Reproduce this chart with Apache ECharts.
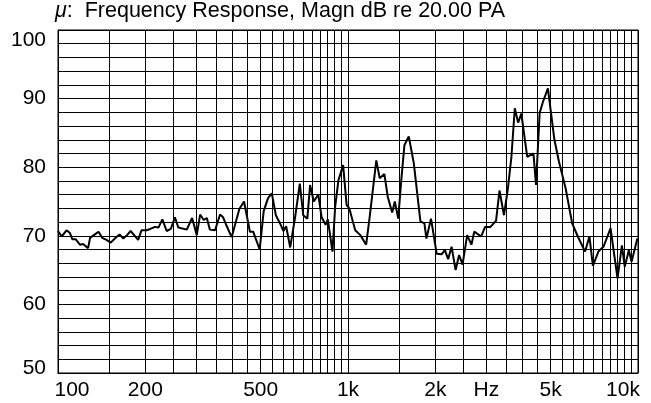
<!DOCTYPE html>
<html>
<head>
<meta charset="utf-8">
<script src="https://cdn.jsdelivr.net/npm/echarts@6/dist/echarts.min.js"></script>
<style>
html,body{margin:0;padding:0;background:#fff}
#chart{width:651px;height:403px}
</style>
</head>
<body>
<div id="chart"></div>
<script>
// Measured magnitude response (Hz, dB re 20.00 PA)
const freqHz = [
  100, 103, 107, 110, 112, 115, 119, 122, 127, 129, 134, 138, 142, 147, 152, 157, 163, 168, 173, 178,
  184, 189, 194, 202, 208, 216, 222, 229, 237, 245, 253, 260, 278, 290, 301, 309, 318, 326, 334, 348,
  362, 371, 381, 397, 422, 438, 459, 471, 496, 512, 530, 546, 564, 583, 599, 612, 632, 657, 682, 701,
  724, 740, 762, 790, 811, 837, 852, 884, 903, 927, 962, 989, 1010, 1059, 1103, 1155, 1190, 1252, 1286, 1335,
  1371, 1420, 1450, 1490, 1525, 1565, 1620, 1686, 1777, 1834, 1864, 1933, 2022, 2103, 2158, 2215, 2276, 2350, 2416, 2483,
  2576, 2664, 2725, 2880, 2970, 3100, 3240, 3330, 3450, 3560, 3660, 3760, 3860, 3960, 4150, 4360, 4450, 4580, 4700, 4890,
  5150, 5340, 5630, 5930, 6200, 6570, 6800, 6990, 7300, 7600, 8040, 8500, 8800, 9000, 9300, 9500, 9950
];
const levelDb = [
  70.7, 69.9, 70.8, 70.4, 69.5, 69.5, 68.7, 68.8, 68.2, 69.7, 70.2, 70.6, 69.7, 69.4, 69.0, 69.6, 70.2, 69.6, 70.1, 70.7,
  70.0, 69.4, 70.8, 70.8, 71.0, 71.3, 71.2, 72.4, 70.7, 71.0, 72.7, 71.2, 70.9, 72.6, 70.1, 73.1, 72.3, 72.6, 70.9, 70.8,
  73.1, 72.7, 71.5, 69.8, 73.9, 75.0, 70.6, 70.6, 68.0, 73.6, 75.5, 76.2, 73.0, 71.8, 70.7, 71.4, 68.3, 72.7, 77.6, 73.0,
  72.5, 77.4, 75.0, 76.0, 72.7, 71.6, 72.4, 67.7, 74.2, 78.1, 80.3, 74.5, 74.0, 70.8, 70.1, 68.7, 73.0, 81.0, 78.4, 79.0,
  75.7, 73.4, 75.0, 72.5, 77.9, 83.2, 84.5, 80.6, 72.1, 71.8, 69.6, 72.5, 67.4, 67.3, 67.9, 66.6, 68.4, 65.0, 67.2, 65.8,
  70.1, 68.7, 70.6, 69.9, 71.3, 71.3, 72.2, 76.6, 73.0, 76.9, 81.5, 88.6, 86.5, 87.8, 81.5, 82.0, 77.4, 87.9, 89.5, 91.5,
  84.0, 80.8, 76.9, 71.8, 69.9, 67.7, 69.9, 65.6, 67.7, 68.4, 71.1, 63.8, 68.6, 65.5, 67.9, 66.2, 69.6
];

// Frequency axis: labelled ticks and the chart-paper rulings in between
const xTickHz = [100, 200, 500, 1000, 2000, 3000, 5000, 10000];
const xTickText = ['100', '200', '500', '1k', '2k', 'Hz', '5k', '10k'];
const xGridHz = [
  150, 250, 300, 350, 400, 450, 550, 600, 650, 700, 750, 800, 850, 900, 950,
  1500, 2500, 3500, 4000, 4500, 5500, 6000, 6500, 7000, 7500, 8000, 8500, 9000, 9500
];
// Level axis
const yMin = 50, yMax = 100, yStep = 2;
const yTickLabels = [50, 60, 70, 80, 90, 100];

const FONT = '"Liberation Sans", Arial, Helvetica, sans-serif';
const INK = '#000';
const FS = 21;

const chart = echarts.init(document.getElementById('chart'), null, { renderer: 'canvas' });

// end labels are nudged inward so they stay inside the frame width
const labelStyle = (i) => {
  if (i === 0) return '{first|' + xTickText[i] + '}';
  if (i === xTickText.length - 1) return '{last|' + xTickText[i] + '}';
  return '{mid|' + xTickText[i] + '}';
};
const tickRich = {
  first: { padding: [0, 0, 0, 28], fontSize: FS, fontFamily: FONT, color: INK },
  last: { padding: [0, 30, 0, 0], fontSize: FS, fontFamily: FONT, color: INK },
  mid: { fontSize: FS, fontFamily: FONT, color: INK }
};

const rulings = xGridHz.map(v => ({ xAxis: v }));
const labelledRulings = xTickHz.map((v, i) => ({
  xAxis: v,
  label: {
    show: true,
    position: 'start',
    distance: 7,
    formatter: labelStyle(i),
    color: INK,
    fontSize: FS,
    fontFamily: FONT,
    rich: tickRich
  }
}));

chart.setOption({
  animation: false,
  backgroundColor: '#fff',
  title: {
    text: '{i|μ}:  Frequency Response, Magn dB re 20.00 PA',
    left: 55,
    top: 0,
    padding: 0,
    textStyle: {
      color: INK,
      fontSize: 21.5,
      fontWeight: 'normal',
      fontFamily: FONT,
      rich: {
        i: { fontStyle: 'italic', fontSize: 21.5, fontFamily: FONT, color: INK }
      }
    }
  },
  grid: {
    left: 58, right: 13, top: 30, bottom: 30,
    show: true, borderColor: INK, borderWidth: 1, backgroundColor: 'transparent'
  },
  xAxis: {
    type: 'log',
    logBase: 10,
    min: 100,
    max: 10000,
    axisLine: { show: true, lineStyle: { color: INK, width: 1 } },
    axisTick: { show: false },
    axisLabel: { show: false },
    splitLine: { show: true, lineStyle: { color: INK, width: 1 } }
  },
  yAxis: {
    type: 'value',
    min: yMin,
    max: yMax,
    interval: yStep,
    axisLine: { show: true, lineStyle: { color: INK, width: 1 } },
    axisTick: { show: false },
    splitLine: { show: true, lineStyle: { color: INK, width: 1 } },
    axisLabel: {
      margin: 12,
      color: INK,
      fontSize: FS,
      fontFamily: FONT,
      formatter: v => {
        if (yTickLabels.indexOf(v) < 0) return '';
        if (v === yMax) return '{top|' + v + '}';
        if (v === yMin) return '{bot|' + v + '}';
        return String(v);
      },
      rich: {
        top: { padding: [20, 0, 0, 0], fontSize: FS, fontFamily: FONT, color: INK },
        bot: { padding: [0, 0, 9, 0], fontSize: FS, fontFamily: FONT, color: INK }
      }
    }
  },
  series: [
    {
      name: 'rulings',
      type: 'line',
      data: [],
      z: 1,
      silent: true,
      markLine: {
        silent: true,
        animation: false,
        symbol: ['none', 'none'],
        lineStyle: { color: INK, width: 1, type: 'solid' },
        label: { show: false },
        emphasis: { disabled: true },
        data: rulings.concat(labelledRulings)
      }
    },
    {
      name: 'Magn',
      type: 'line',
      z: 5,
      symbol: 'none',
      smooth: false,
      lineStyle: { color: INK, width: 2 },
      data: freqHz.map((f, i) => [f, levelDb[i]])
    }
  ]
});
</script>
</body>
</html>
